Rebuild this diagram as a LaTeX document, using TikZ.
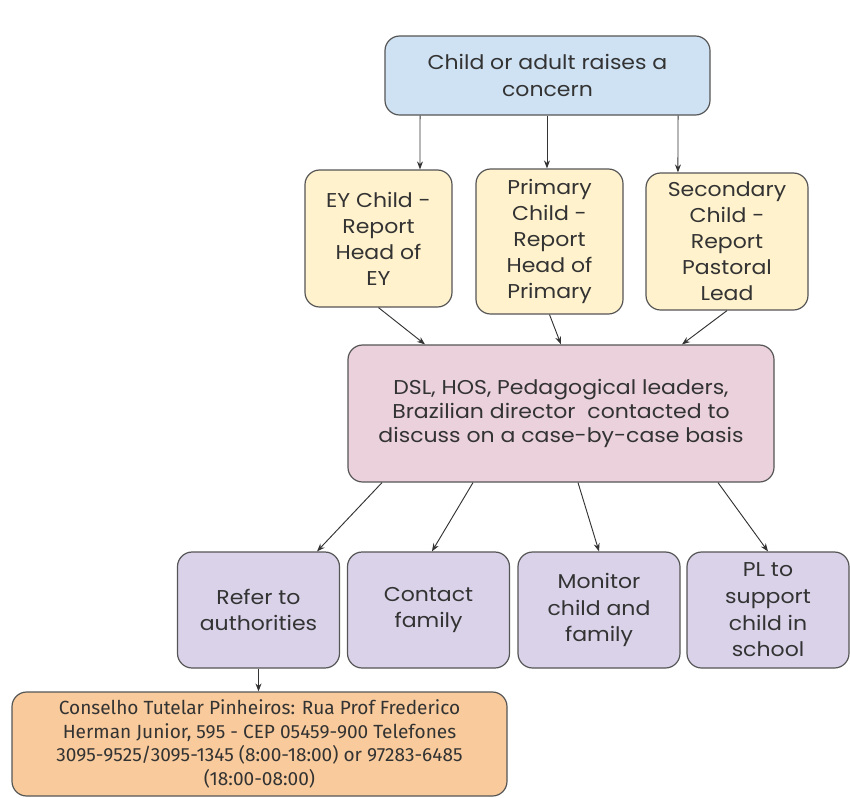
\documentclass[tikz,border=0pt]{standalone}
\usepackage{fontspec}
\setmainfont{Poppins}[FakeStretch=1.1]
\newfontfamily\addrfont{Fira Sans}
\usetikzlibrary{arrows.meta}
\definecolor{concernblue}{HTML}{CFE2F3}
\definecolor{reportyellow}{HTML}{FFF2CC}
\definecolor{discusspink}{HTML}{EAD1DC}
\definecolor{actionpurple}{HTML}{D9D2E9}
\definecolor{contactorange}{HTML}{F9CB9C}
\definecolor{boxline}{HTML}{555555}
\definecolor{textgray}{HTML}{333333}
\begin{document}
\begin{tikzpicture}[x=0.75pt,y=-0.75pt,
  box/.style={draw=boxline,line width=0.9pt,rounded corners=11pt,align=center,
    text=textgray,inner sep=0pt,font=\fontsize{15}{19.5}\selectfont},
  report/.style={box,fill=reportyellow,minimum width=110.25pt,minimum height=102.75pt},
  action/.style={box,fill=actionpurple,minimum width=121.5pt,minimum height=87pt,
    font=\fontsize{15}{20}\selectfont},
  arr/.style={-{Stealth[length=6pt,width=4.5pt]},draw=textgray,line width=0.7pt}]
  \useasboundingbox (0,0) rectangle (850,797);
  \node[box,fill=concernblue,minimum width=243.75pt,minimum height=59.25pt,
    font=\fontsize{15}{20}\selectfont] (concern) at (547.5,75.5)
    {Child or adult raises a\\concern};
  \node[report] (ey) at (378.5,238.5) {EY Child -\\Report\\Head of\\EY};
  \node[report,minimum height=108.75pt] (primary) at (549.5,241.5)
    {Primary\\Child -\\Report\\Head of\\Primary};
  \node[report,minimum width=121.5pt] (secondary) at (727,241.5)
    {Secondary\\Child -\\Report\\Pastoral\\Lead};
  \node[box,fill=discusspink,minimum width=319.5pt,minimum height=102.75pt,
    font=\fontsize{15}{18}\selectfont] (discuss) at (561,413.5)
    {DSL, HOS, Pedagogical leaders,\\Brazilian director\ \ contacted to\\discuss on a case-by-case basis};
  \node[action] (refer) at (258.5,610) {Refer to\\authorities};
  \node[action] (family) at (428.5,610) {Contact\\family};
  \node[action] (monitor) at (599,610) {Monitor\\child and\\family};
  \node[action] (support) at (768,610) {PL to\\support\\child in\\school};
  \node[box,fill=contactorange,minimum width=371.25pt,minimum height=78pt,
    font=\addrfont\fontsize{14.3}{17.6}\selectfont] (conselho) at (259.5,744)
    {Conselho Tutelar Pinheiros: Rua Prof Frederico\\Herman Junior, 595 - CEP 05459-900 Telefones\\3095-9525/3095-1345 (8:00-18:00) or 97283-6485\\(18:00-08:00)};
  \draw[arr] ([xshift=-95.6pt]concern.south) -- ([xshift=31.1pt]ey.north);
  \draw[arr] ([xshift=-0.4pt]concern.south) -- ([xshift=-1.9pt]primary.north);
  \draw[arr] ([xshift=97.9pt]concern.south) -- ([xshift=-36.8pt]secondary.north);
  \draw[arr] (ey.south) -- ([xshift=-102pt]discuss.north);
  \draw[arr] (primary.south) -- (discuss.north);
  \draw[arr] (secondary.south) -- ([xshift=90.75pt]discuss.north);
  \draw[arr] ([xshift=-134.25pt]discuss.south) -- ([xshift=43.9pt]refer.north);
  \draw[arr] ([xshift=-66pt]discuss.south) -- ([xshift=2.6pt]family.north);
  \draw[arr] ([xshift=12.75pt]discuss.south) -- (monitor.north);
  \draw[arr] ([xshift=117.75pt]discuss.south) -- (support.north);
  \draw[arr] (refer.south) -- (refer.south |- conselho.north);
\end{tikzpicture}
\end{document}
